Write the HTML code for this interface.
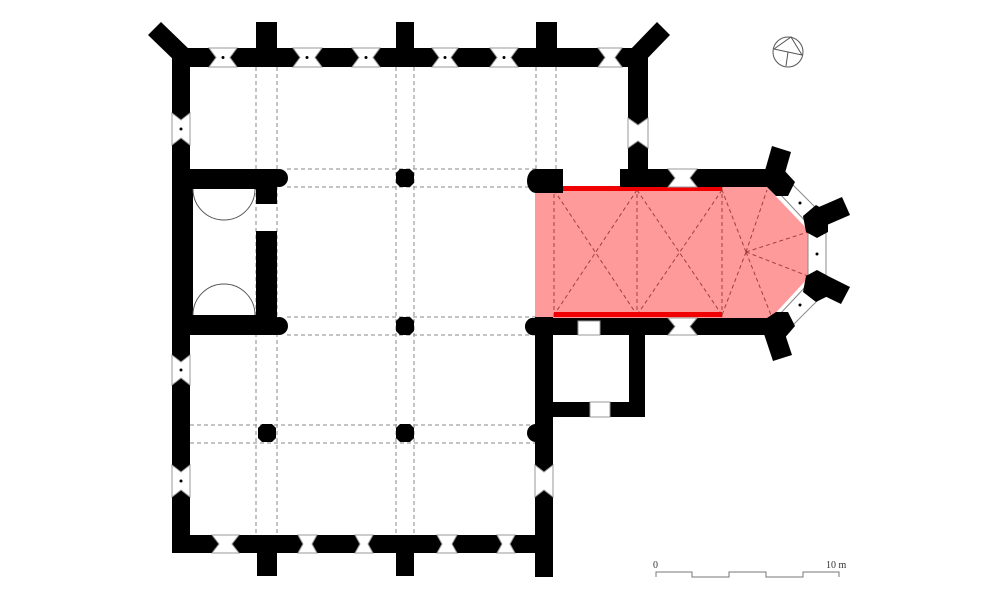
<!DOCTYPE html>
<html><head><meta charset="utf-8"><style>html,body{margin:0;padding:0;background:#fff}svg{display:block}</style></head>
<body>
<svg width="1000" height="594" viewBox="0 0 1000 594" xmlns="http://www.w3.org/2000/svg" font-family="Liberation Serif, serif">
<polygon points="535,187 767,187 808,230 808,278 771,318 535,318" fill="#ff9a9a"/>
<g stroke="#888" stroke-width="1" stroke-dasharray="4,3" fill="none">
 <line x1="256" y1="67" x2="256" y2="535"/><line x1="277" y1="67" x2="277" y2="535"/>
 <line x1="396" y1="67" x2="396" y2="535"/><line x1="414" y1="67" x2="414" y2="535"/>
 <line x1="536" y1="67" x2="536" y2="170"/><line x1="556" y1="67" x2="556" y2="170"/>
 <line x1="287" y1="169" x2="536" y2="169"/><line x1="287" y1="187" x2="536" y2="187"/>
 <line x1="287" y1="317" x2="536" y2="317"/><line x1="287" y1="335" x2="536" y2="335"/>
 <line x1="190" y1="425" x2="536" y2="425"/><line x1="190" y1="443" x2="536" y2="443"/>
</g>
<g stroke="#a04040" stroke-width="1" stroke-dasharray="4,3" fill="none">
 <line x1="554" y1="187" x2="554" y2="318"/><line x1="637" y1="187" x2="637" y2="318"/><line x1="722" y1="187" x2="722" y2="318"/>
 <line x1="554" y1="190" x2="637" y2="315"/><line x1="637" y1="190" x2="554" y2="315"/>
 <line x1="637" y1="190" x2="722" y2="315"/><line x1="722" y1="190" x2="637" y2="315"/>
 <line x1="746" y1="252" x2="722" y2="190"/><line x1="746" y1="252" x2="722" y2="315"/>
 <line x1="746" y1="252" x2="767" y2="190"/><line x1="746" y1="252" x2="808" y2="232"/>
 <line x1="746" y1="252" x2="808" y2="276"/><line x1="746" y1="252" x2="771" y2="315"/>
</g>
<rect x="554" y="186" width="168" height="5" fill="#f00000"/>
<rect x="554" y="312" width="168" height="5" fill="#f00000"/>
<!-- apse window lines -->
<g stroke="#888" stroke-width="1" fill="none">
 <line x1="790" y1="182" x2="820" y2="212"/><line x1="780" y1="194" x2="808" y2="224"/>
 <line x1="808" y1="232" x2="808" y2="278"/><line x1="826" y1="214" x2="826" y2="296"/>
 <line x1="808" y1="284" x2="780" y2="314"/><line x1="820" y1="298" x2="790" y2="328"/>
</g>
<g fill="#000">
 <rect x="172" y="48" width="476" height="19"/>
 <rect x="256" y="22" width="21" height="30"/><rect x="396" y="22" width="18" height="30"/><rect x="536" y="22" width="21" height="30"/>
 <polygon points="148,35 161,22 192,52 179,65"/>
 <polygon points="628,52 657,22 670,35 641,65"/>
 <rect x="172" y="48" width="18" height="505"/>
 <rect x="172" y="169" width="21" height="166"/>
 <rect x="172" y="169" width="105" height="20"/><circle cx="279" cy="178" r="9"/>
 <rect x="256" y="169" width="21" height="35"/>
 <rect x="256" y="231" width="21" height="104"/>
 <rect x="172" y="315" width="105" height="20"/><circle cx="279" cy="326" r="9"/>
 <rect x="628" y="48" width="20" height="139"/>
 <rect x="172" y="535" width="381" height="18"/>
 <rect x="257" y="540" width="20" height="36"/><rect x="396" y="540" width="18" height="36"/>
 <rect x="535" y="317" width="18" height="260"/>
 <rect x="620" y="169" width="155" height="18"/>
 <path d="M536,169 H563 V193 H536 A9,12 0 0 1 536,169Z"/>
 <path d="M531,318 H775 V335 H531 A9,9 0 0 1 531,318Z"/>
 <polygon points="400,169 410,169 414,173 414,183 410,187 400,187 396,183 396,173"/>
 <polygon points="400,317 410,317 414,321 414,331 410,335 400,335 396,331 396,321"/>
 <polygon points="400,424 410,424 414,428 414,438 410,442 400,442 396,438 396,428"/>
 <polygon points="262,424 272,424 276,428 276,438 272,442 262,442 258,438 258,428"/>
 <circle cx="536" cy="433" r="9"/>
 <rect x="629" y="335" width="16" height="82"/>
 <rect x="535" y="402" width="110" height="15"/>
 <!-- apse corners -->
 <polygon points="765,169 783,169 795,182 788,196 776,196 767,187"/>
 <polygon points="803,216 816,205 828,212 828,232 817,238 806,232"/>
 <polygon points="806,276 817,270 828,276 828,296 816,302 803,292"/>
 <polygon points="767,318 776,312 788,312 795,326 783,340 765,335"/>
 <!-- apse buttresses -->
 <polygon points="772,146 791,152 783,180 764,174"/>
 <polygon points="812,210 842,197 850,215 820,228"/>
 <polygon points="820,272 850,287 841,304 812,290"/>
 <polygon points="764,334 783,328 792,355 773,361"/>
</g>
<g fill="#000"><circle cx="800" cy="203" r="1.5"/><circle cx="817" cy="254" r="1.5"/><circle cx="800" cy="305" r="1.5"/></g>
<g fill="#fff" stroke="#999" stroke-width="1">
 <polygon points="209,48 237,48 230,57.5 237,67 209,67 216,57.5"/>
 <polygon points="293,48 322,48 315,57.5 322,67 293,67 300,57.5"/>
 <polygon points="352,48 380,48 373,57.5 380,67 352,67 359,57.5"/>
 <polygon points="432,48 458,48 451,57.5 458,67 432,67 439,57.5"/>
 <polygon points="490,48 518,48 511,57.5 518,67 490,67 497,57.5"/>
 <polygon points="598,48 622,48 615,57.5 622,67 598,67 605,57.5"/>
 <polygon points="212,535 239,535 232,544 239,553 212,553 219,544"/>
 <polygon points="298,535 317,535 312,544 317,553 298,553 303,544"/>
 <polygon points="355,535 373,535 368,544 373,553 355,553 360,544"/>
 <polygon points="437,535 457,535 452,544 457,553 437,553 442,544"/>
 <polygon points="497,535 515,535 510,544 515,553 497,553 502,544"/>
 <polygon points="172,113 172,145 181,138 190,145 190,113 181,120"/>
 <polygon points="172,355 172,385 181,378 190,385 190,355 181,362"/>
 <polygon points="172,465 172,497 181,490 190,497 190,465 181,472"/>
 <polygon points="628,118 628,148 638,141 648,148 648,118 638,125"/>
 <polygon points="535,465 535,497 544,490 553,497 553,465 544,472"/>
 <polygon points="668,169 697,169 690,178 697,187 668,187 675,178"/>
 <polygon points="668,318 697,318 690,326.5 697,335 668,335 675,326.5"/>
 <rect x="578" y="321" width="22" height="14"/>
 <rect x="590" y="402" width="20" height="15"/>
</g>
<g fill="#000">
 <circle cx="223" cy="57.5" r="1.5"/><circle cx="307" cy="57.5" r="1.5"/><circle cx="366" cy="57.5" r="1.5"/><circle cx="445" cy="57.5" r="1.5"/><circle cx="504" cy="57.5" r="1.5"/>
 <circle cx="181" cy="129" r="1.5"/><circle cx="181" cy="370" r="1.5"/><circle cx="181" cy="481" r="1.5"/>
</g>
<g stroke="#555" stroke-width="1" fill="none">
 <path d="M193,189 A31,31 0 0 0 255,189"/>
 <path d="M193,315 A31,31 0 0 1 255,315"/>
</g>
<g stroke="#555" stroke-width="1" fill="none">
 <circle cx="788" cy="52" r="15"/>
 <polyline points="774,49 791,37 802,55 774,49"/>
 <line x1="788" y1="52" x2="786" y2="66"/>
</g>
<polyline points="656,577 656,572 692,572 692,577 729,577 729,572 766,572 766,577 803,577 803,572 839,572 839,577" stroke="#777" fill="none" stroke-width="1"/>
<text x="653" y="568" font-size="10" fill="#333">0</text>
<text x="826" y="568" font-size="10" fill="#333">10 m</text>
</svg>
</body></html>
